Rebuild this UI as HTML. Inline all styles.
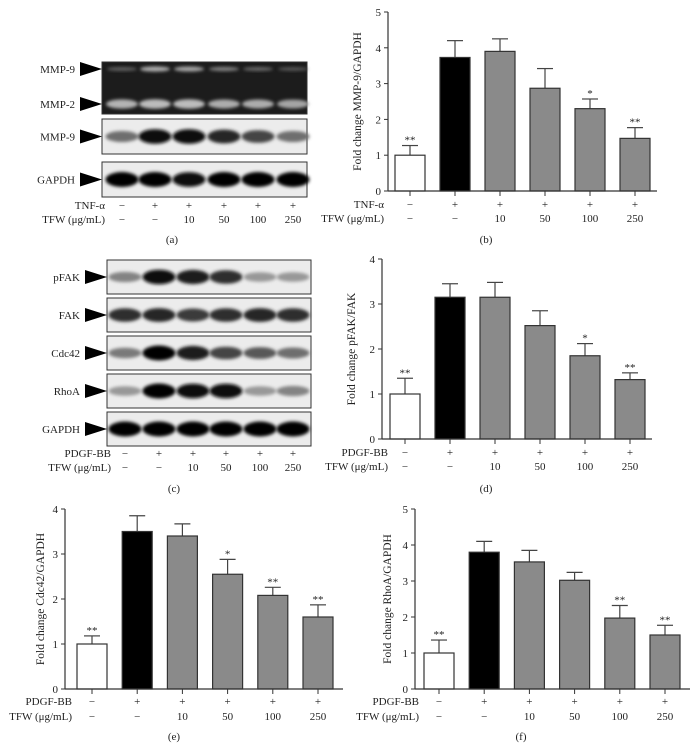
<!DOCTYPE html>
<html><head><meta charset="utf-8">
<style>
html,body{margin:0;padding:0;background:#fff;}
body{width:694px;height:749px;overflow:hidden;}
svg text{font-family:"Liberation Serif",serif;fill:#222;}
</style></head>
<body>
<svg id="fig" width="694" height="749" viewBox="0 0 694 749" xmlns="http://www.w3.org/2000/svg">
<defs>
<filter id="blur" x="-20%" y="-50%" width="140%" height="200%"><feGaussianBlur stdDeviation="1.6"/></filter>
</defs>
</svg>
<script>
// ---------- DATA ----------
const lanes = ["lane1","lane2","lane3","lane4","lane5","lane6"];
const stimSigns = ["−","+","+","+","+","+"];
const tfwDoses = ["−","−","10","50","100","250"];

const mmp9Values = [1.0, 3.73, 3.9, 2.87, 2.3, 1.47];
const mmp9Errors = [0.27, 0.47, 0.35, 0.55, 0.27, 0.3];
const mmp9Stars = ["**","","","","*","**"];
const mmp9Ticks = [0,1,2,3,4,5];

const pfakValues = [1.0, 3.15, 3.15, 2.52, 1.85, 1.32];
const pfakErrors = [0.35, 0.3, 0.33, 0.33, 0.27, 0.15];
const pfakStars = ["**","","","","*","**"];
const pfakTicks = [0,1,2,3,4];

const cdc42Values = [1.0, 3.5, 3.4, 2.55, 2.08, 1.6];
const cdc42Errors = [0.18, 0.35, 0.27, 0.33, 0.18, 0.27];
const cdc42Stars = ["**","","","*","**","**"];
const cdc42Ticks = [0,1,2,3,4];

const rhoaValues = [1.0, 3.8, 3.53, 3.02, 1.97, 1.5];
const rhoaErrors = [0.36, 0.3, 0.32, 0.22, 0.35, 0.27];
const rhoaStars = ["**","","","","**","**"];
const rhoaTicks = [0,1,2,3,4,5];

// blot band intensities (0..1)
const zymoMMP9 = [0.25,0.75,0.7,0.45,0.3,0.2];
const zymoMMP2 = [0.8,0.85,0.85,0.75,0.75,0.7];
const wbMMP9 = [0.5,0.95,0.95,0.85,0.7,0.5];
const wbGAPDH_a = [1,1,0.95,1,1,1];
const wbPFAK = [0.4,0.95,0.9,0.8,0.3,0.3];
const wbFAK = [0.8,0.85,0.75,0.8,0.85,0.8];
const wbCDC42 = [0.45,1,0.9,0.7,0.6,0.5];
const wbRHOA = [0.3,1,0.95,0.95,0.3,0.4];
const wbGAPDH_c = [1,1,1,1,1,1];

const barFills = ["#ffffff","#000000","#8a8a8a","#8a8a8a","#8a8a8a","#8a8a8a"];

// ---------- helpers ----------
const svg = document.getElementById('fig');
const NS = "http://www.w3.org/2000/svg";
function mk(tag, attrs, parent){
  const e = document.createElementNS(NS, tag);
  for (const k in attrs) e.setAttribute(k, attrs[k]);
  (parent||svg).appendChild(e);
  return e;
}
function txt(x,y,s,size,anchor,parent){
  const t = mk('text',{x:x,y:y,'font-size':size,'text-anchor':anchor||'middle'},parent);
  t.textContent = s;
  return t;
}

function conditionRows(g, centers, y1, y2, stimName, labelRight){
  const l1 = txt(labelRight, y1, stimName, 11, 'end', g);
  
  
  const l2 = txt(labelRight, y2, "TFW (μg/mL)", 11, 'end', g);
  
  
  centers.forEach((c,i)=>{
    const a = txt(c, y1, stimSigns[i], 11, 'middle', g);
    
    
    const b = txt(c, y2, tfwDoses[i], 11, 'middle', g);
    
    
  });
}

function blot(g, x0, y0, w, h, centers, intens, name, label, labelX){
  const box = mk('g',{},g);
  
  
  mk('rect',{x:x0,y:y0,width:w,height:h,fill:'#ececec',stroke:'#333','stroke-width':1},box);
  centers.forEach((c,i)=>{
    const v = intens[i];
    const k = Math.round(215 - v*210);
    const band = mk('ellipse',{cx:c,cy:y0+h/2,rx:16.5,ry:3.5+v*4,fill:`rgb(${k},${k},${k})`,filter:'url(#blur)'},box);
    
    
  });
  const cy = y0+h/2;
  const arr = mk('polygon',{points:`${x0-22},${cy-7} ${x0},${cy} ${x0-22},${cy+7}`,fill:'#000'},g);
  
  
  const t = txt(labelX, cy+4, label, 11, 'end', g);
  
  
}

function barChart(cfg){
  const g = mk('g',{});
  
  
  const ymax = cfg.ticks[cfg.ticks.length-1];
  const yScale = v => cfg.y0 - (v/ymax)*(cfg.y0-cfg.yTop);
  const xScale = i => cfg.x1 + i*cfg.step;
  cfg.values.forEach((v,i)=>{
    const cx = xScale(i), top = yScale(v), et = yScale(v+cfg.errors[i]);
    const eb = mk('line',{x1:cx,x2:cx,y1:top,y2:et,stroke:'#444','stroke-width':1.2},g);
    
    
    const cap = mk('line',{x1:cx-8,x2:cx+8,y1:et,y2:et,stroke:'#444','stroke-width':1.2},g);
    
    
    const r = mk('rect',{x:cx-15,y:top,width:30,height:cfg.y0-top,fill:barFills[i],stroke:'#333','stroke-width':1.2},g);
    
    
    if (cfg.stars[i]){
      const s = txt(cx, et-2, cfg.stars[i], 11, 'middle', g);
      
      
    }
    const tk = mk('line',{x1:cx,x2:cx,y1:cfg.y0,y2:cfg.y0+5,stroke:'#333','stroke-width':1},g);
    
    
  });
  const ya = mk('line',{x1:cfg.ax,x2:cfg.ax,y1:cfg.yTop,y2:cfg.y0,stroke:'#333','stroke-width':1.2},g);
  
  
  const xa = mk('line',{x1:cfg.ax,x2:cfg.axEnd,y1:cfg.y0,y2:cfg.y0,stroke:'#333','stroke-width':1.2},g);
  
  
  cfg.ticks.forEach(t=>{
    const y = yScale(t);
    const l = mk('line',{x1:cfg.ax-4,x2:cfg.ax,y1:y,y2:y,stroke:'#333','stroke-width':1},g);
    
    
    const tl = txt(cfg.ax-7, y+4, String(t), 11, 'end', g);
    
    
  });
  const yt = txt(0,0,cfg.ytitle,11.5,'middle',g);
  yt.setAttribute('transform',`translate(${cfg.titleX},${(cfg.y0+cfg.yTop)/2}) rotate(-90)`);
  
  
  const centers = cfg.values.map((v,i)=>xScale(i));
  conditionRows(g, centers, cfg.row1, cfg.row2, cfg.stimName, cfg.labelRight);
  const pl = txt(cfg.panelX, cfg.panelY, cfg.panel, 11, 'middle', g);
  
  
}

// ---------- panel a ----------
(function(){
  const g = mk('g',{});
  
  
  const c = [122,155,189,224,258,293];
  const gel = mk('g',{},g);
  
  
  mk('rect',{x:102,y:62,width:205,height:52,fill:'#1c1c1c',stroke:'#333'},gel);
  c.forEach((x,i)=>{
    let k = Math.round(60+zymoMMP9[i]*150);
    const b1 = mk('ellipse',{cx:x,cy:69,rx:15,ry:1.5+zymoMMP9[i]*1.5,fill:`rgb(${k},${k},${k})`,filter:'url(#blur)'},gel);
    
    
    k = Math.round(60+zymoMMP2[i]*150);
    const b2 = mk('ellipse',{cx:x,cy:104,rx:16,ry:3+zymoMMP2[i]*2,fill:`rgb(${k},${k},${k})`,filter:'url(#blur)'},gel);
    
    
  });
  [[69,"MMP-9"],[104,"MMP-2"]].forEach(([cy,lab])=>{
    const a = mk('polygon',{points:`80,${cy-7} 102,${cy} 80,${cy+7}`,fill:'#000'},g);
    
    
    const t = txt(75, cy+4, lab, 11, 'end', g);
    
    
  });
  blot(g,102,119,205,35,c,wbMMP9,'mmp9-western-blot','MMP-9',75);
  blot(g,102,162,205,35,c,wbGAPDH_a,'gapdh-western-blot','GAPDH',75);
  conditionRows(g,c,209,223,'TNF-α',105);
  const pl = txt(172,243,'(a)',11,'middle',g);
  
  
})();

// ---------- panel c ----------
(function(){
  const g = mk('g',{});
  
  
  const c = [125,159,193,226,260,293];
  blot(g,107,260,204,34,c,wbPFAK,'pfak-western-blot','pFAK',80);
  blot(g,107,298,204,34,c,wbFAK,'fak-western-blot','FAK',80);
  blot(g,107,336,204,34,c,wbCDC42,'cdc42-western-blot','Cdc42',80);
  blot(g,107,374,204,34,c,wbRHOA,'rhoa-western-blot','RhoA',80);
  blot(g,107,412,204,34,c,wbGAPDH_c,'gapdh-western-blot','GAPDH',80);
  conditionRows(g,c,457,471,'PDGF-BB',111);
  const pl = txt(174,492,'(c)',11,'middle',g);
  
  
})();

// ---------- charts ----------
barChart({name:'panel-b-mmp9-chart',values:mmp9Values,errors:mmp9Errors,stars:mmp9Stars,ticks:mmp9Ticks,
  ax:388,axEnd:657,y0:191,yTop:12,x1:410,step:45,ytitle:'Fold change MMP-9/GAPDH',titleX:361,
  row1:208,row2:222,stimName:'TNF-α',labelRight:384,panel:'(b)',panelX:486,panelY:243});
barChart({name:'panel-d-pfak-chart',values:pfakValues,errors:pfakErrors,stars:pfakStars,ticks:pfakTicks,
  ax:382,axEnd:652,y0:439,yTop:259,x1:405,step:45,ytitle:'Fold change pFAK/FAK',titleX:355,
  row1:456,row2:470,stimName:'PDGF-BB',labelRight:388,panel:'(d)',panelX:486,panelY:492});
barChart({name:'panel-e-cdc42-chart',values:cdc42Values,errors:cdc42Errors,stars:cdc42Stars,ticks:cdc42Ticks,
  ax:65,axEnd:343,y0:689,yTop:509,x1:92,step:45.2,ytitle:'Fold change Cdc42/GAPDH',titleX:44,
  row1:705,row2:720,stimName:'PDGF-BB',labelRight:72,panel:'(e)',panelX:174,panelY:740});
barChart({name:'panel-f-rhoa-chart',values:rhoaValues,errors:rhoaErrors,stars:rhoaStars,ticks:rhoaTicks,
  ax:415,axEnd:690,y0:689,yTop:509,x1:439,step:45.2,ytitle:'Fold change RhoA/GAPDH',titleX:391,
  row1:705,row2:720,stimName:'PDGF-BB',labelRight:419,panel:'(f)',panelX:521,panelY:740});
</script>
</body></html>
